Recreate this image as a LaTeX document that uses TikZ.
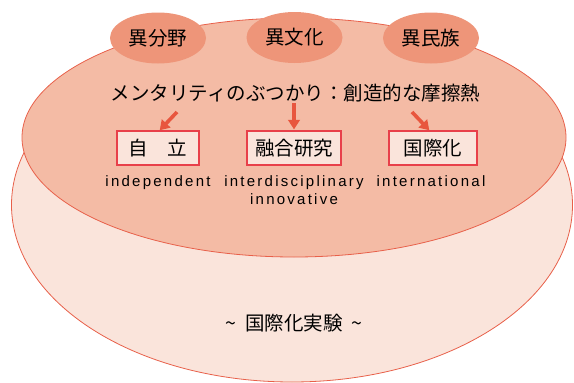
\documentclass[tikz,border=0pt]{standalone}
\usepackage{fontspec}
\setmainfont{Liberation Sans}
\newfontfamily\cjk{Noto Sans CJK JP}
\newfontfamily\engl{Liberation Sans}[LetterSpace=15]
\usetikzlibrary{shapes.geometric,arrows.meta}
\definecolor{lineRed}{HTML}{E8604A}
\definecolor{boxRed}{HTML}{E8404A}
\definecolor{lightFill}{HTML}{FAE4DB}
\definecolor{midFill}{HTML}{F4BBA5}
\definecolor{darkFill}{HTML}{EE9579}
\definecolor{arrowRed}{HTML}{E8563E}
\tikzset{
  topell/.style={ellipse, fill=darkFill, minimum width=96pt, minimum height=51pt, inner sep=0pt, font=\cjk\fontsize{19.5}{22}\selectfont},
  kbox/.style={draw=boxRed, line width=1.2pt, fill=lightFill, minimum height=34pt, inner sep=0pt, font=\cjk\fontsize{19.5}{22}\selectfont},
  engtext/.style={anchor=base, inner sep=0pt, align=center, font=\engl\fontsize{15}{18.5}\selectfont},
  bigarrow/.style={draw=arrowRed, line width=3.6pt, -{Triangle[width=11.5pt,length=9.5pt]}, shorten >=1pt}
}
\begin{document}
\begin{tikzpicture}[x=1pt,y=-1pt]
\useasboundingbox (0,0) rectangle (574,383);
% ellipses
\draw[lineRed, line width=0.8pt, fill=lightFill] (292,205) ellipse [x radius=280.5pt, y radius=177pt];
\draw[lineRed, line width=0.8pt, fill=midFill] (294,137.5) ellipse [x radius=272pt, y radius=119.5pt];
\node[topell] (e1) at (158,38) {異分野};
\node[topell] (e2) at (294.5,37.5) {異文化};
\node[topell] (e3) at (431,38) {異民族};
% header
\node[inner sep=0pt, font=\cjk\fontsize{19.5}{22}\selectfont] (head) at (295.5,93) {メンタリティのぶつかり：創造的な摩擦熱};
% boxes
\node[kbox, minimum width=82pt] (b1) at (158,148) {自　立};
\node[kbox, minimum width=94pt] (b2) at (294,148) {融合研究};
\node[kbox, minimum width=88pt] (b3) at (433,148) {国際化};
% arrows
\coordinate (s1) at (177,112);
\coordinate (s2) at (294,103);
\coordinate (s3) at (412,112);
\coordinate (t1) at (159,131);
\coordinate (t3) at (430,131);
\draw[bigarrow] (s1) -- (t1);
\draw[bigarrow] (s2) -- (b2.north);
\draw[bigarrow] (s3) -- (t3);
% english
\node[engtext] (w1) at (158,186) {independent};
\node[engtext] (w2) at (294,204.5) {interdisciplinary\\innovative};
\node[engtext] (w3) at (431,186) {international};
% bottom
\node[inner sep=0pt, font=\cjk\fontsize{19.5}{22}\selectfont] (exp) at (294,323) {\textasciitilde\hspace{9pt}国際化実験\hspace{9pt}\textasciitilde};
\end{tikzpicture}
\end{document}
